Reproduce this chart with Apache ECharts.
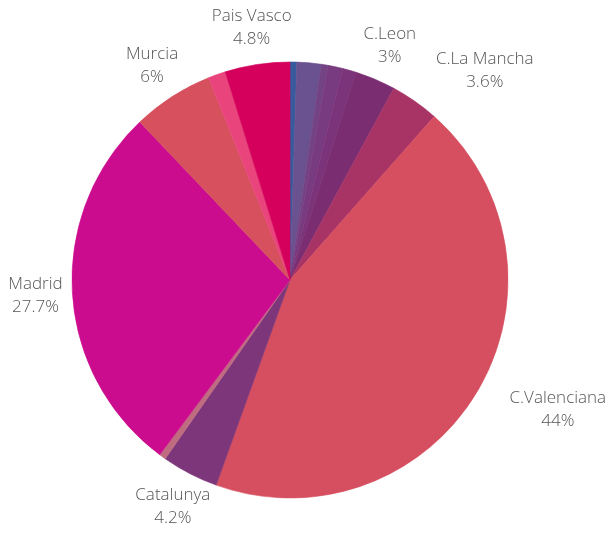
<!DOCTYPE html>
<html>
<head>
<meta charset="utf-8">
<title>Pie</title>
<script src="https://cdn.jsdelivr.net/npm/echarts@6/dist/echarts.min.js"></script>
<style>
	html, body { margin: 0; padding: 0; background: #fff; }
	#main { width: 610px; height: 533px; }
</style>
</head>
<body>
<div id="main"></div>
<script type="text/javascript">
	// regions, clockwise from 12 o'clock
	var regions = ['Andalucia', 'Aragon', 'Asturias', 'Baleares', 'Cantabria', 'C.Leon', 'C.La Mancha',
		'C.Valenciana', 'Catalunya', 'Galicia', 'Madrid', 'Murcia', 'Navarra', 'Pais Vasco'];
	var shares = [0.5, 1.8, 0.5, 1.1, 1.0, 3, 3.6, 44, 4.2, 0.5, 27.7, 6, 1.3, 4.8];
	var palette = ['#375b9c', '#6a5190', '#734384', '#783b7f', '#7b3479', '#7b2d72', '#a83466',
		'#d64f60', '#7c3679', '#bf6c81', '#cc0c8e', '#d6505e', '#e9457c', '#d4005c'];

	var cx = 290, cy = 280, R = 218;
	var labelDist = R + 37;

	var total = shares.reduce(function(a, b){ return a + b; }, 0);
	var midAngles = [];
	var acc = 0;
	for (var i = 0; i < shares.length; i++) {
		midAngles.push((acc + shares[i] / 2) / total * 2 * Math.PI);
		acc += shares[i];
	}

	// centre the label on its angle, push it sideways if it would cover the pie
	function placeLabel(params){
		var a = midAngles[params.dataIndex];
		var ux = Math.sin(a), uy = -Math.cos(a);
		var w = params.labelRect.width, h = params.labelRect.height;
		var x = cx + ux * labelDist, y = cy + uy * labelDist;
		var nx = Math.max(x - w / 2, Math.min(cx, x + w / 2));
		var ny = Math.max(y - h / 2, Math.min(cy, y + h / 2));
		if (Math.sqrt((nx - cx) * (nx - cx) + (ny - cy) * (ny - cy)) < R) {
			x += (ux >= 0 ? 1 : -1) * w / 2;
		}
		return {x: x, y: y, align: 'center', verticalAlign: 'middle'};
	}

	var data = regions.map(function(name, i){
		return {
			name: name,
			value: shares[i],
			// same-colour edge hides the seams between slices
			itemStyle: {color: palette[i], borderColor: palette[i], borderWidth: 0.6}
		};
	});

	var option = {
		animation: false,
		series: [{
			type: 'pie',
			center: [cx, cy],
			radius: R,
			startAngle: 90,
			clockwise: true,
			minShowLabelAngle: 8,
			avoidLabelOverlap: false,
			emphasis: {disabled: true},
			label: {
				show: true,
				position: 'outside',
				color: '#555',
				fontFamily: 'Open Sans',
				fontWeight: 300,
				fontSize: 17,
				lineHeight: 23,
				align: 'center',
				formatter: function(p){
					return p.name + '\n' + (+p.percent.toFixed(1)) + '%';
				}
			},
			labelLine: {show: false},
			labelLayout: placeLabel,
			data: data
		}]
	};

	var myChart = echarts.init(document.getElementById('main'), null, {renderer: 'canvas'});
	myChart.setOption(option);
</script>
</body>
</html>
